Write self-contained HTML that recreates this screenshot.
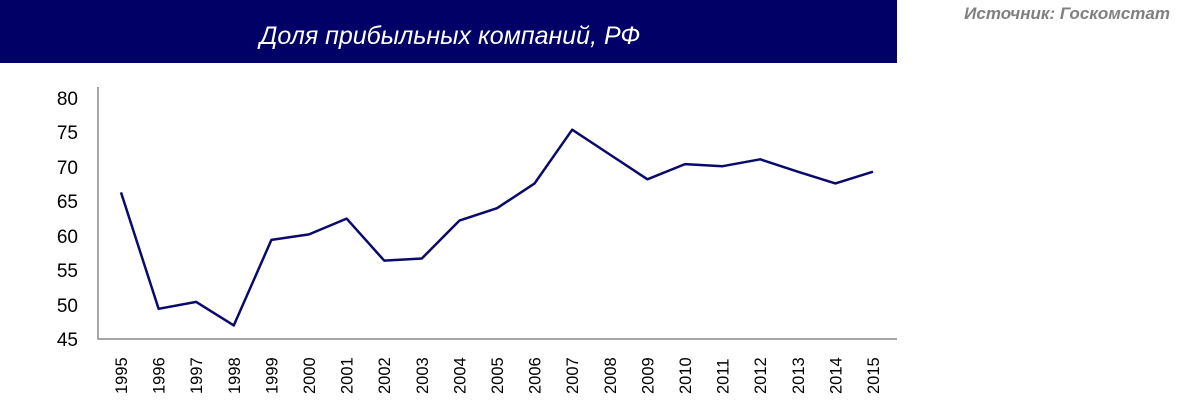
<!DOCTYPE html><html><head><meta charset="utf-8"><style>
body{margin:0;width:1188px;height:403px;background:#fff;overflow:hidden;font-family:"Liberation Sans",sans-serif}
</style></head><body>
<svg width="1188" height="403" xmlns="http://www.w3.org/2000/svg" font-family="Liberation Sans, sans-serif">
<rect x="0" y="0" width="897" height="63" fill="#000066"/>
<text x="450" y="44" fill="#fff" font-size="25" font-style="italic" text-anchor="middle">Доля прибыльных компаний, РФ</text>
<text x="1170" y="19" fill="#808080" font-size="17" font-style="italic" font-weight="bold" text-anchor="end">Источник: Госкомстат</text>
<path d="M98 87V339H897" fill="none" stroke="#888" stroke-width="1.5"/>
<g font-size="19" fill="#000" text-anchor="end">
<text x="78" y="105">80</text><text x="78" y="139">75</text><text x="78" y="174">70</text><text x="78" y="208">65</text><text x="78" y="243">60</text><text x="78" y="277">55</text><text x="78" y="312">50</text><text x="78" y="346">45</text>
</g>
<g font-size="16.5" fill="#000" id="xl"></g>
<polyline id="ln" fill="none" stroke="#0a0a6a" stroke-width="2.5" stroke-linejoin="round"/>
</svg>
<script>
var d=[66.3,49.4,50.4,47.0,59.4,60.2,62.5,56.4,56.7,62.2,64.0,67.6,75.4,71.8,68.2,70.4,70.1,71.1,69.3,67.6,69.3];
var pts=[],g=document.getElementById('xl'),ns="http://www.w3.org/2000/svg";
d.forEach(function(v,i){var x=121+i*37.6,y=98+(80-v)*6.89;pts.push(x.toFixed(1)+","+y.toFixed(1));
var t=document.createElementNS(ns,'text');t.setAttribute('transform','translate('+(x+6)+',394) rotate(-90)');t.textContent=1995+i;g.appendChild(t);});
document.getElementById('ln').setAttribute('points',pts.join(' '));
</script>
</body></html>
